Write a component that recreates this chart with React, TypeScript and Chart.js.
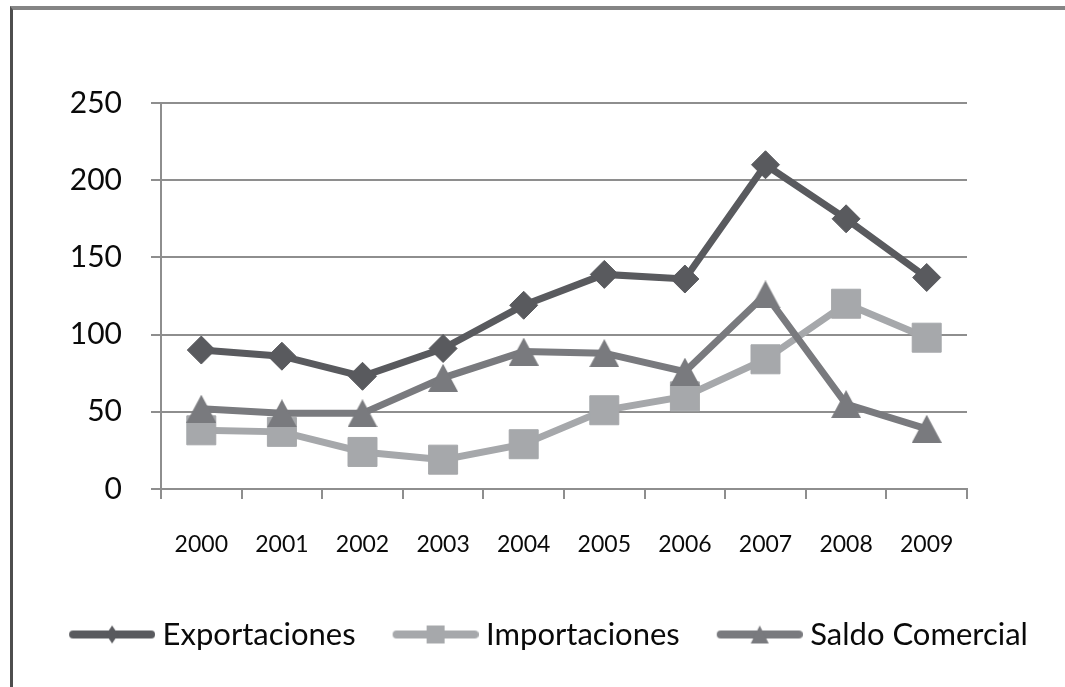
import React, { useEffect, useRef } from 'react';
import { Chart, registerables } from 'chart.js';

Chart.register(...registerables);

const years = ['2000', '2001', '2002', '2003', '2004', '2005', '2006', '2007', '2008', '2009'];
const exportaciones = [90, 86, 73, 91, 119, 139, 136, 210, 175, 137];
const importaciones = [38, 37, 24, 19, 29, 51, 60, 84, 120, 98];
const saldoComercial = [52, 49, 49, 72, 89, 88, 76, 126, 55, 39];
const seriesNames = ['Exportaciones', 'Importaciones', 'Saldo Comercial'];
const yMin = 0;
const yMax = 250;
const yStep = 50;

const FONT = 'Lato, "Open Sans", "Noto Sans", sans-serif';
const EXP_COLOR = '#595a5e';
const IMP_COLOR = '#a6a8ab';
const SAL_COLOR = '#797a7e';
const GRID = '#8e8e8e';
const TEXT = '#0a0a0a';

function triangleMarker(color: string, w: number, h: number) {
  const c = document.createElement('canvas');
  c.width = w;
  c.height = h;
  const ctx = c.getContext('2d')!;
  ctx.fillStyle = color;
  ctx.beginPath();
  ctx.moveTo(w / 2, 0);
  ctx.lineTo(w, h);
  ctx.lineTo(0, h);
  ctx.closePath();
  ctx.fill();
  return c;
}

function legendIcon(color: string, shape: 'diamond' | 'square' | 'triangle') {
  const W = 126;
  const H = 24;
  const c = document.createElement('canvas');
  c.width = W;
  c.height = H;
  const ctx = c.getContext('2d')!;
  ctx.strokeStyle = color;
  ctx.lineWidth = 8;
  ctx.lineCap = 'round';
  ctx.beginPath();
  ctx.moveTo(44, 12);
  ctx.lineTo(122, 12);
  ctx.stroke();
  const cx = 83;
  const cy = 12;
  ctx.fillStyle = color;
  ctx.beginPath();
  if (shape === 'diamond') {
    ctx.moveTo(cx, cy - 9);
    ctx.lineTo(cx + 6, cy);
    ctx.lineTo(cx, cy + 9);
    ctx.lineTo(cx - 6, cy);
  } else if (shape === 'square') {
    ctx.rect(cx - 9, cy - 9, 18, 18);
  } else {
    ctx.moveTo(cx, cy - 9);
    ctx.lineTo(cx + 9, cy + 9);
    ctx.lineTo(cx - 9, cy + 9);
  }
  ctx.closePath();
  ctx.fill();
  return c;
}

export default function App() {
  const ref = useRef<HTMLCanvasElement | null>(null);

  useEffect(() => {
    const canvas = ref.current;
    if (!canvas) return;
    const tri = triangleMarker(SAL_COLOR, 30, 28);
    const icons = [
      legendIcon(EXP_COLOR, 'diamond'),
      legendIcon(IMP_COLOR, 'square'),
      legendIcon(SAL_COLOR, 'triangle'),
    ];
    const chart = new Chart(canvas, {
      type: 'line',
      data: {
        labels: years,
        datasets: [
          {
            label: seriesNames[0],
            data: exportaciones,
            borderColor: EXP_COLOR,
            backgroundColor: EXP_COLOR,
            borderWidth: 7,
            pointStyle: 'rectRot',
            pointRadius: 14,
            pointBorderWidth: 1,
            pointBackgroundColor: EXP_COLOR,
            pointBorderColor: EXP_COLOR,
            tension: 0,
            order: 0,
          },
          {
            label: seriesNames[1],
            data: importaciones,
            borderColor: IMP_COLOR,
            backgroundColor: IMP_COLOR,
            borderWidth: 7,
            pointStyle: 'rect',
            pointRadius: 20.5,
            pointBorderWidth: 1,
            pointBackgroundColor: IMP_COLOR,
            pointBorderColor: IMP_COLOR,
            tension: 0,
            order: 2,
          },
          {
            label: seriesNames[2],
            data: saldoComercial,
            borderColor: SAL_COLOR,
            backgroundColor: SAL_COLOR,
            borderWidth: 7,
            pointStyle: tri,
            pointRadius: 15,
            tension: 0,
            order: 1,
          },
        ],
      },
      options: {
        animation: false,
        responsive: false,
        maintainAspectRatio: false,
        devicePixelRatio: 1,
        layout: { padding: { top: 103, left: 0, right: 0, bottom: 27 } },
        plugins: {
          legend: {
            position: 'bottom',
            align: 'center',
            labels: {
              usePointStyle: true,
              pointStyleWidth: 110,
              padding: 5,
              color: TEXT,
              font: { family: FONT, size: 31 },
              sort: (a: any, b: any) => a.datasetIndex - b.datasetIndex,
              generateLabels: (chart: any) =>
                (Chart as any).defaults.plugins.legend.labels
                  .generateLabels(chart)
                  .map((item: any) => ({ ...item, pointStyle: icons[item.datasetIndex] })),
            },
          },
          tooltip: { enabled: false },
        },
        scales: {
          x: {
            type: 'category',
            offset: true,
            grid: {
              display: true,
              drawOnChartArea: false,
              drawTicks: true,
              tickLength: 10,
              color: GRID,
              lineWidth: 2,
              offset: true,
            },
            border: { display: true, color: GRID, width: 2 },
            ticks: {
              font: { family: FONT, size: 23 },
              color: TEXT,
              padding: 32,
              maxRotation: 0,
              autoSkip: false,
            },
            afterFit: (s: any) => {
              s.height = 125;
            },
          },
          y: {
            min: yMin,
            max: yMax,
            ticks: {
              stepSize: yStep,
              font: { family: FONT, size: 30 },
              color: TEXT,
              padding: 29,
            },
            grid: { color: GRID, lineWidth: 2, tickLength: 10 },
            border: { display: true, color: GRID, width: 2 },
            afterFit: (s: any) => {
              s.width = 161;
            },
          },
          yRight: {
            position: 'right',
            display: true,
            grid: { display: false },
            ticks: { display: false },
            border: { display: false },
            afterFit: (s: any) => {
              s.width = 98;
            },
          },
        },
      } as any,
    });
    return () => chart.destroy();
  }, []);

  return (
    <div style={{ position: 'fixed', left: 0, top: 0, width: 1065, height: 687, background: '#fff' }}>
      <canvas ref={ref} width={1065} height={687} style={{ position: 'absolute', left: 0, top: 0, width: 1065, height: 687 }} />
      <div
        style={{
          position: 'absolute',
          left: 10,
          top: 6,
          width: 1055,
          height: 681,
          boxSizing: 'border-box',
          borderTop: '4px solid #858585',
          borderLeft: '3px solid #4e4e4e',
          pointerEvents: 'none',
        }}
      />
    </div>
  );
}
